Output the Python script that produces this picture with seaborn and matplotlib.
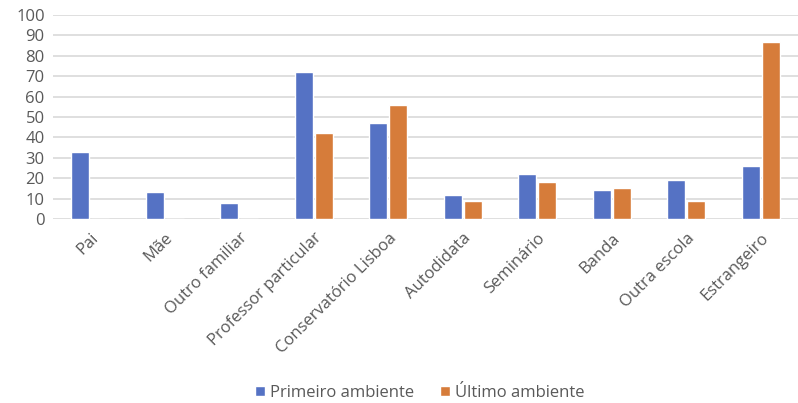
import matplotlib
matplotlib.use("Agg")
import matplotlib.pyplot as plt
import seaborn as sns
import pandas as pd
from matplotlib.patches import Patch

categories = ["Pai", "Mãe", "Outro familiar", "Professor particular", "Conservatório Lisboa",
              "Autodidata", "Seminário", "Banda", "Outra escola", "Estrangeiro"]
primeiro = [33, 13, 8, 72, 47, 12, 22, 14, 19, 26]
ultimo = [0, 0, 0, 42, 56, 9, 18, 15, 9, 87]
series_names = ["Primeiro ambiente", "Último ambiente"]
colors = ["#5572C4", "#D67C3A"]

df = pd.DataFrame({
    "cat": categories * 2,
    "val": primeiro + ultimo,
    "serie": [series_names[0]] * len(categories) + [series_names[1]] * len(categories),
})

sns.set_theme(style="white")
plt.rcParams["font.family"] = ["Open Sans", "DejaVu Sans"]

fig = plt.figure(figsize=(7.98, 4.03), dpi=100)
ax = fig.add_axes([53/798, (403-219)/403, 745/798, (219-15)/403])

sns.barplot(data=df, x="cat", y="val", hue="serie", palette=colors, ax=ax,
            width=0.54, gap=0.12, saturation=1, legend=False, zorder=3)

ax.set_ylim(0, 100)
ax.set_yticks(range(0, 101, 10))
ax.grid(axis="y", color="#D9D9D9", linewidth=1.2, zorder=0)
ax.set_axisbelow(True)
for s in ax.spines.values():
    s.set_visible(False)
ax.set_xlabel("")
ax.set_ylabel("")
ax.tick_params(axis="both", length=0, colors="#595959", labelsize=12)
ax.tick_params(axis="x", pad=8)
ax.tick_params(axis="y", pad=6)
ax.set_xlim(-0.5, len(categories) - 0.5)
plt.setp(ax.get_xticklabels(), rotation=45, ha="right", rotation_mode="anchor")

handles = [Patch(facecolor=c, label=n) for c, n in zip(colors, series_names)]
fig.legend(handles=handles, loc="center", bbox_to_anchor=(0.526, 1 - 393/403), ncol=2,
           frameon=False, fontsize=12, handlelength=0.6, handleheight=0.6,
           handletextpad=0.3, columnspacing=1.6, labelcolor="#595959")

fig.savefig("out.png", dpi=100)
